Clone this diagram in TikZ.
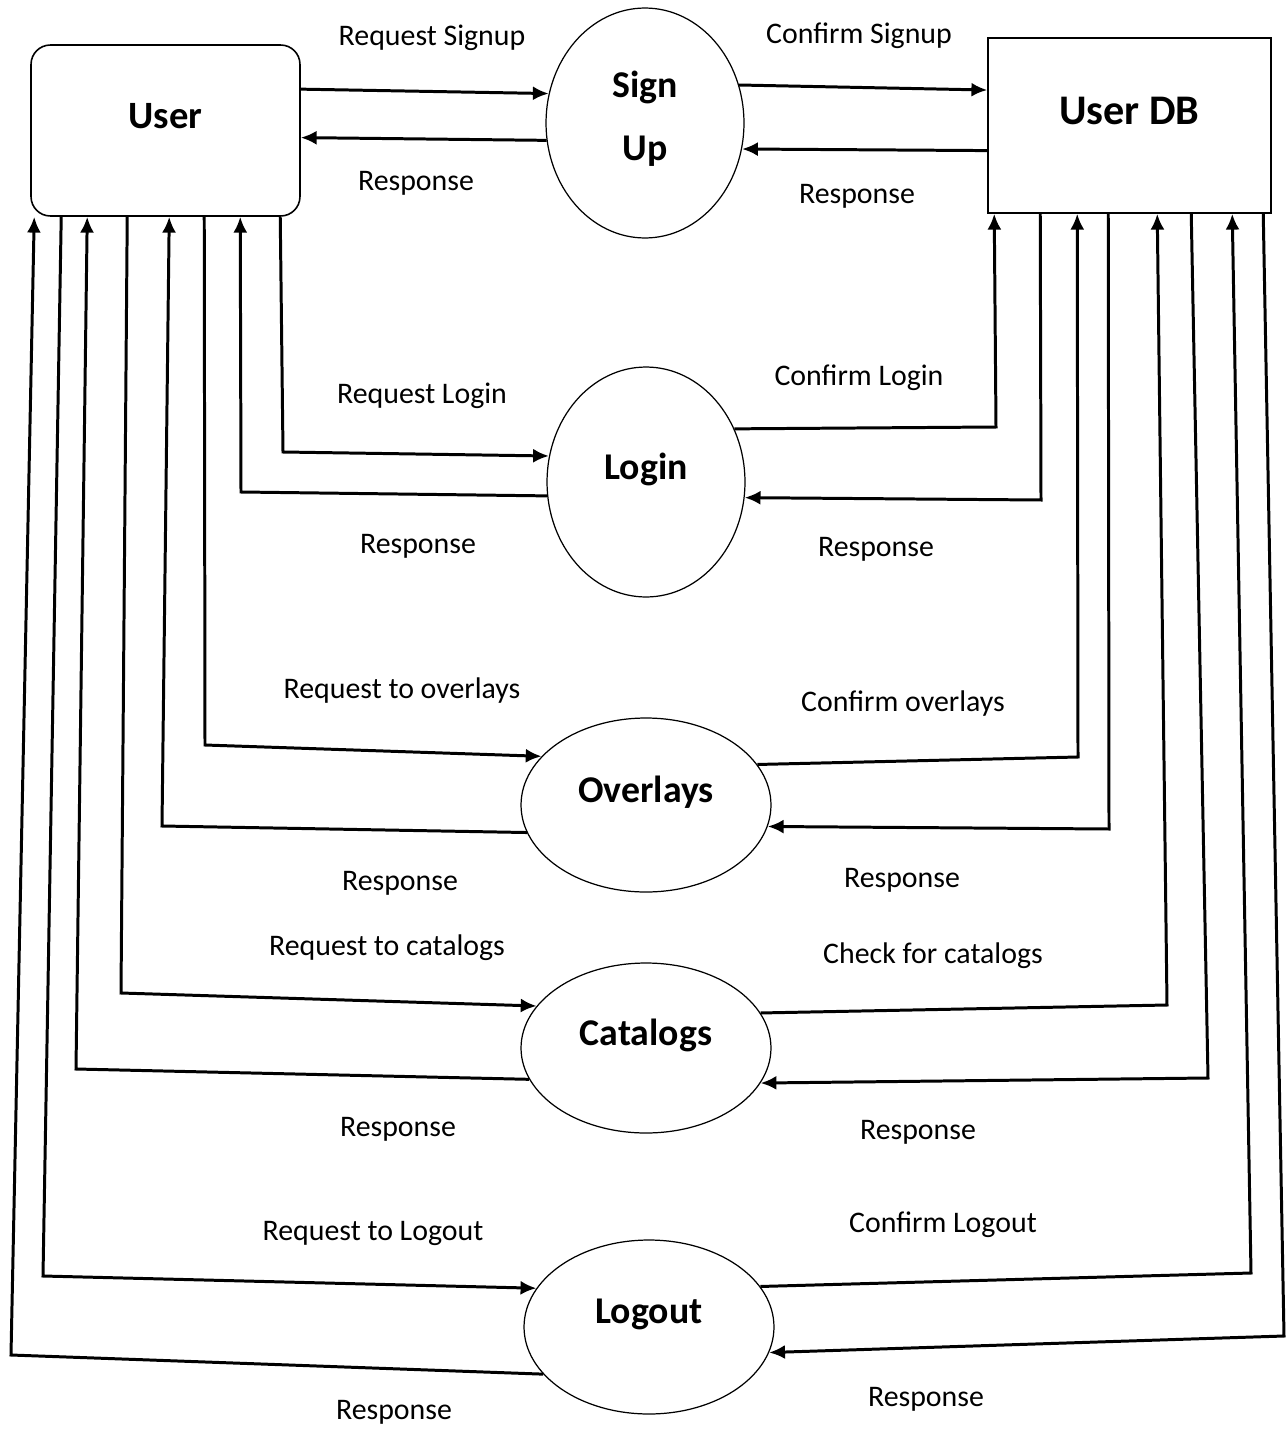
\documentclass[tikz,border=0pt]{standalone}
\usepackage{fontspec}
\setmainfont{Carlito}
\usetikzlibrary{positioning,arrows.meta,shapes.geometric}

\tikzset{
  entity/.style={draw, line width=0.9pt, minimum width=5.38cm, minimum height=3.42cm,
    text depth=17pt, font=\bfseries\fontsize{22}{26}\selectfont},
  proc/.style={draw, ellipse, line width=0.7pt, inner sep=0pt, text depth=18pt,
    font=\bfseries\fontsize{21.5}{25}\selectfont},
  flow/.style={line width=1.7pt},
  lbl/.style={font=\fontsize{17}{20}\selectfont, inner sep=1pt},
}

\begin{document}
\begin{tikzpicture}[>={Latex[length=9pt,width=8pt]}, x=0.02cm, y=-0.02cm]
    \useasboundingbox (0,0) rectangle (1286,1430);

    % external entities
    \node[entity, rounded corners=11pt] (user) at (165.5,130.5) {User};
    \node[entity, minimum width=5.66cm, minimum height=3.5cm,
          font=\bfseries\fontsize{24}{28}\selectfont] (userdb) at (1129.5,125.5) {User DB};

    % processes
    \node[proc, minimum width=3.96cm, minimum height=4.6cm, align=center, text depth=8pt,
          font=\bfseries\fontsize{21.5}{36}\selectfont] (signup) at (645,123) {Sign\\Up};
    \node[proc, minimum width=3.96cm, minimum height=4.6cm] (login) at (646,482) {Login};
    \node[proc, minimum width=5cm, minimum height=3.48cm] (overlays) at (646,805) {Overlays};
    \node[proc, minimum width=5cm, minimum height=3.4cm] (catalogs) at (646,1048) {Catalogs};
    \node[proc, minimum width=5cm, minimum height=3.48cm] (logout) at (649,1327) {Logout};

    % feet of the flows on the two boxes
    \foreach \i/\dx in {1/4,2/31,3/57,4/97,5/139,6/174,7/210,8/250}
        \path (user.south west) ++(\dx,0) coordinate (u\i);
    \foreach \i/\dx in {1/7,2/53,3/90,4/121,5/170,6/204,7/245,8/276}
        \path (userdb.south west) ++(\dx,0) coordinate (d\i);

    % sign up
    \draw[flow,->] (user.17.5) -- (signup.163);
    \draw[flow,->] (signup.190) -- (user.-3);
    \draw[flow,->] (signup.22) -- (userdb.166);
    \draw[flow,->] (userdb.190) -- (signup.-15);

    % login
    \draw[flow,->] (u8) -- (283,452) -- (login.165);
    \draw[flow,->] (login.188.6) -- (241,492) -- (u7);
    \draw[flow,->] (login.31.8) -- (996,427) -- (d1);
    \draw[flow,->] (d2) -- (1041,500) -- (login.-9);

    % overlays
    \draw[flow,->] (u6) -- (205,745) -- (overlays.155);
    \draw[flow,->] (overlays.193) -- (162,826) -- (u5);
    \draw[flow,->] (overlays.20.7) -- (1078,757) -- (d3);
    \draw[flow,->] (d4) -- (1109,829) -- (overlays.-10.7);

    % catalogs
    \draw[flow,->] (u4) -- (121,993) -- (catalogs.159);
    \draw[flow,->] (catalogs.195) -- (76,1069) -- (u3);
    \draw[flow,->] (catalogs.17) -- (1167,1005) -- (d5);
    \draw[flow,->] (d6) -- (1208,1078) -- (catalogs.-17);

    % logout
    \draw[flow,->] (u2) -- (43,1276) -- (logout.161.6);
    \draw[flow,->] (logout.204) -- (11,1355) -- (u1);
    \draw[flow,->] (logout.20) -- (1251,1273) -- (d7);
    \draw[flow,->] (d8) -- (1284,1336) -- (logout.-12);

    % flow labels
    \node[lbl] (reqsignup) at (432,38) {Request Signup};
    \node[lbl] (cfsignup) at (859,36) {Confirm Signup};
    \node[lbl] (reqlogin) at (422,396) {Request Login};
    \node[lbl] (cflogin) at (859,378) {Confirm Login};
    \node[lbl] (reqovl) at (402,691) {Request to overlays};
    \node[lbl] (cfovl) at (903,704) {Confirm overlays};
    \node[lbl] (reqcat) at (387,948) {Request to catalogs};
    \node[lbl] (chkcat) at (933,956) {Check for catalogs};
    \node[lbl] (reqout) at (373,1233) {Request to Logout};
    \node[lbl] (cfout) at (943,1225) {Confirm Logout};
    \foreach \i/\x/\y in {1/416/183, 2/857/196, 3/418/546, 4/876/549, 5/400/883,
                          6/902/880, 7/398/1129, 8/918/1132, 9/394/1412, 10/926/1399}
        \node[lbl] (resp\i) at (\x,\y) {Response};
\end{tikzpicture}
\end{document}
